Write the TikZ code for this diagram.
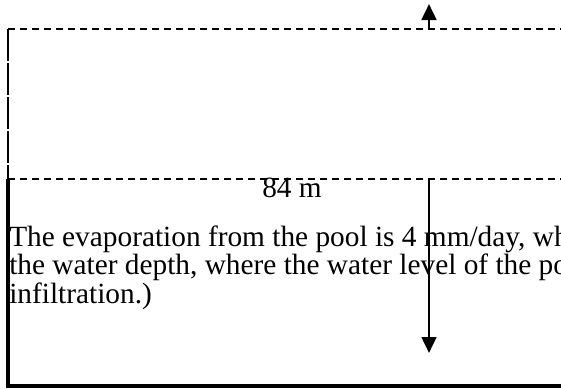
\documentclass[tikz,border=0pt]{standalone}
\usepackage{fontspec}
\setmainfont{Liberation Serif}
\usetikzlibrary{arrows.meta, positioning}
\tikzset{
  waterline/.style={
    line width=1.4pt, draw=black, dash pattern=on 5.25pt off 3.75pt,
  },
  oldwall/.style={
    line width=1pt, draw=black, dash pattern=on 24pt off 1.5pt,
  },
  wall/.style={
    line width=2.6pt, draw=black,
  },
  flux/.style={
    -{Triangle[length=12pt, width=11pt]}, line width=2pt, draw=black,
  },
  plaintext/.style={
    font=\fontsize{22pt}{19.5pt}\selectfont, inner sep=0pt,
  }
}

\begin{document}
\begin{tikzpicture}[x=0.75pt, y=-0.75pt]

  \useasboundingbox (0,0) rectangle (561,389);

  % pool outline
  \coordinate (topL)  at (8, 29);
  \coordinate (topR)  at (561, 29);
  \coordinate (watL)  at (8, 179);
  \coordinate (watR)  at (561, 179);
  \coordinate (botL)  at (8, 386);
  \coordinate (botR)  at (561, 386);

  \draw[waterline] (topL) -- (topR);
  \draw[oldwall]   (topL) -- (watL);
  \draw[waterline] (watL) -- (watR);
  \draw[wall] (watL) -- (botL) -- (botR);

  % evaporation and depth
  \coordinate (evapS) at (429, 29);
  \coordinate (evapE) at (429, 4);
  \coordinate (depS)  at (429, 179);
  \coordinate (depE)  at (429, 353);

  \draw[flux] (evapS) -- (evapE);
  \draw[flux] (depS) -- (depE);

  \node[plaintext, anchor=base] (width) at (292, 197) {84 m};

  % base anchor sits on the last line
  \node[plaintext, anchor=base west, align=left] (note) at (9, 303)
    {The evaporation from the pool is 4 mm/day, wh\\
     the water depth, where the water level of the po\\
     infiltration.)};

\end{tikzpicture}
\end{document}
